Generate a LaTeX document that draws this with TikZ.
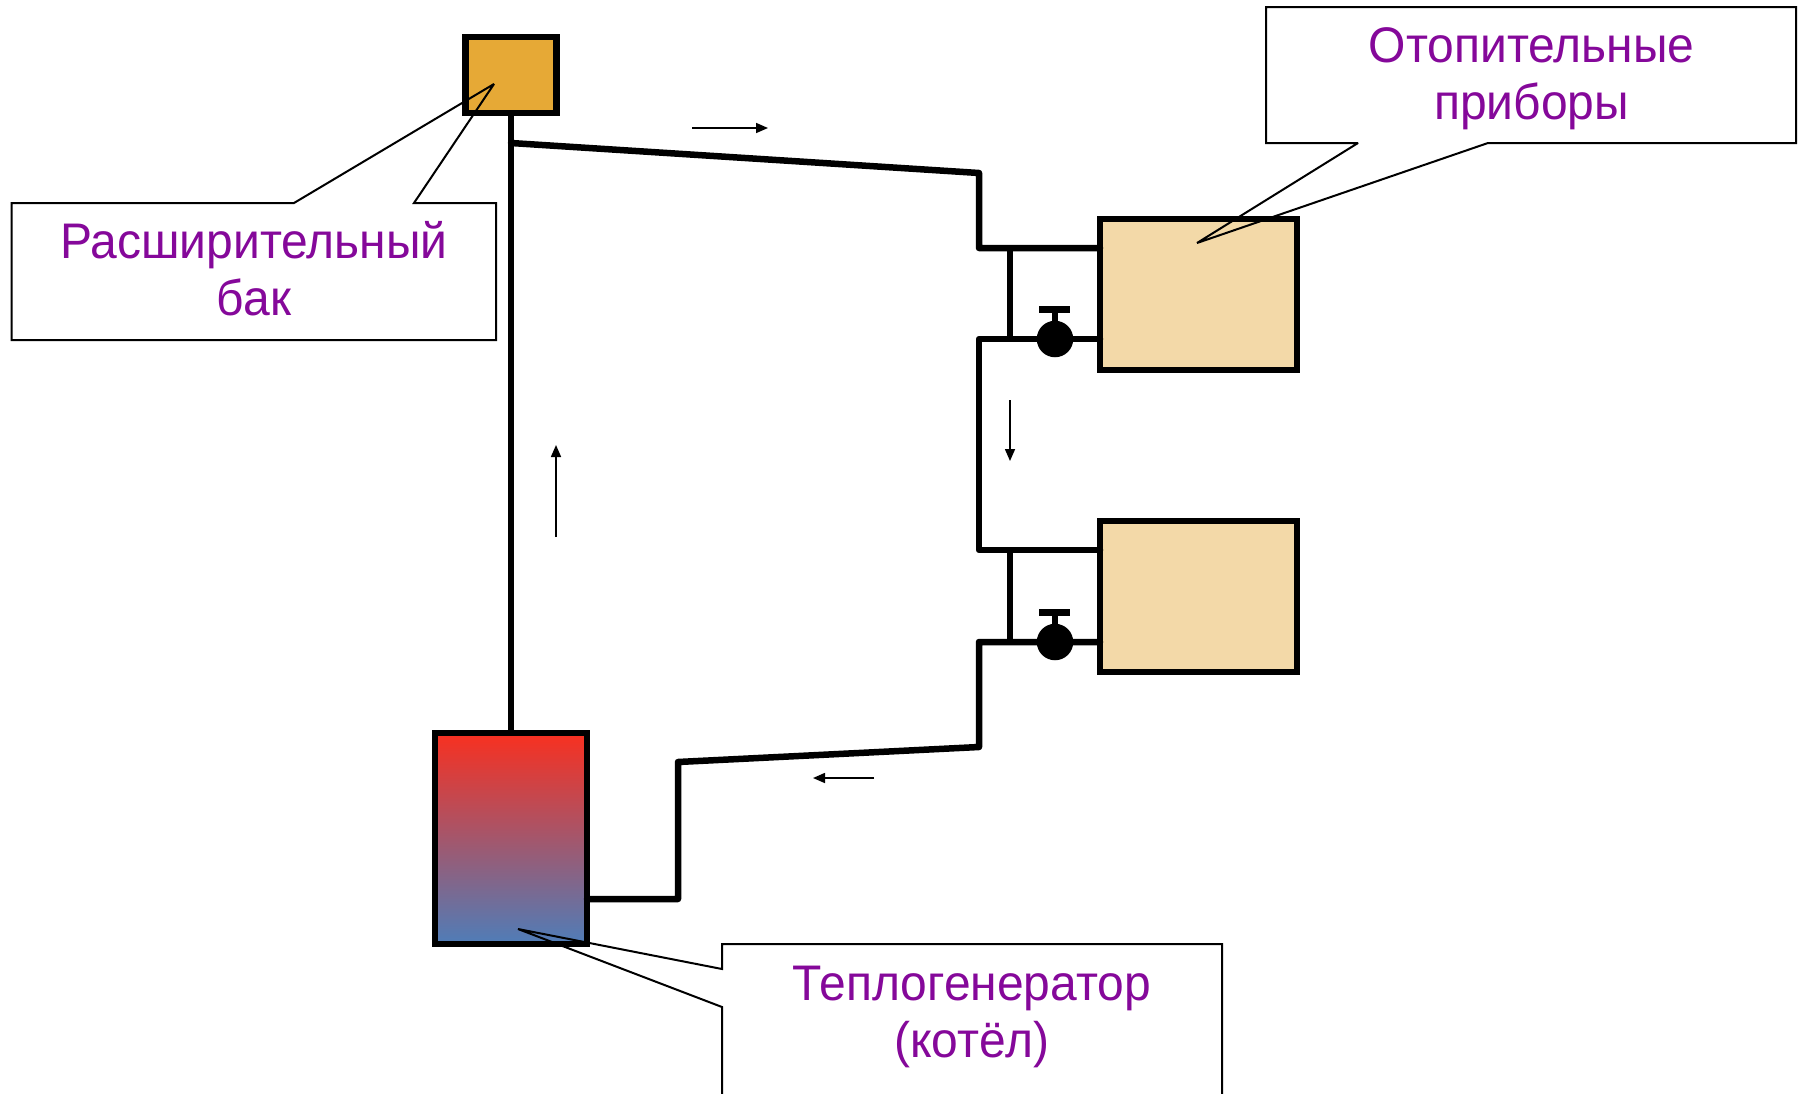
\documentclass[tikz,border=0pt]{standalone}
\usepackage{fontspec}
\setmainfont{Liberation Sans}
\newfontfamily\callfont[FakeStretch=0.96]{Liberation Sans}
\usetikzlibrary{arrows.meta}
\definecolor{tankfill}{HTML}{E6A936}
\definecolor{radfill}{HTML}{F3D9A8}
\definecolor{hot}{HTML}{F83020}
\definecolor{cold}{HTML}{4F7DB8}
\definecolor{labelcol}{HTML}{85089A}
\tikzset{
  x=1pt,y=-1pt,
  pipe/.style={line width=6.5pt,line cap=round,line join=round},
  thinpipe/.style={line width=6pt},
  unitbox/.style={draw,line width=6.3pt,inner sep=0pt,outer sep=0pt},
  radbox/.style={unitbox,fill=radfill,minimum width=196.5pt,minimum height=151pt},
  callout/.style={line width=2pt,line join=miter,miter limit=3},
  calltext/.style={text=labelcol,align=center,inner sep=0pt,font=\callfont\fontsize{50}{57}\selectfont},
  flow/.style={line width=1.6pt,-{Triangle[length=12pt,width=10pt]}},
  valvebody/.style={circle,fill=black,inner sep=0pt,minimum size=36.5pt},
}
\begin{document}
\begin{tikzpicture}
\useasboundingbox[fill=white] (0,0) rectangle (1802,1093);
% equipment
\node[unitbox,fill=tankfill,minimum width=91pt,minimum height=76pt] (tank) at (511,75) {};
\node[unitbox,top color=hot,bottom color=cold,minimum width=152pt,minimum height=211pt] (boiler) at (511,838.5) {};
\node[radbox] (radA) at (1198.5,294.5) {};
\node[radbox] (radB) at (1198.5,596.5) {};
% junctions
\coordinate (riser) at (511,143);
\coordinate (j1) at (979,173);
\coordinate (j2) at (979,248);
\coordinate (j2r) at (1100,248);
\coordinate (j3) at (979,339);
\coordinate (j3r) at (1100,339);
\coordinate (j4) at (979,550);
\coordinate (j4r) at (1100,550);
\coordinate (j5) at (979,642);
\coordinate (j5r) at (1100,642);
\coordinate (j6) at (979,747);
\coordinate (j7) at (678,762);
\coordinate (j8) at (678,899);
\coordinate (j8l) at (587,899);
\coordinate (b1t) at (1010,248);
\coordinate (b1b) at (1010,339);
\coordinate (b2t) at (1010,550);
\coordinate (b2b) at (1010,642);
% pipes
\draw[line width=6pt] (tank.south) -- (boiler.north);
\draw[pipe] (riser) -- (j1) -- (j2) -- (j2r);
\draw[pipe] (j3r) -- (j3) -- (j4) -- (j4r);
\draw[pipe] (j5r) -- (j5) -- (j6) -- (j7) -- (j8) -- (j8l);
\draw[thinpipe] (b1t) -- (b1b);
\draw[thinpipe] (b2t) -- (b2b);
% valves
\node[valvebody] (v1) at (1055,339) {};
\node[valvebody] (v2) at (1055,642) {};
\coordinate (v1s) at (1055,309);
\coordinate (v1a) at (1039,309);
\coordinate (v1b) at (1070,309);
\coordinate (v2s) at (1055,612);
\coordinate (v2a) at (1039,612);
\coordinate (v2b) at (1070,612);
\draw[thinpipe] (v1) -- (v1s);
\draw[line width=7pt] (v1a) -- (v1b);
\draw[thinpipe] (v2) -- (v2s);
\draw[line width=7pt] (v2a) -- (v2b);
% flow arrows
\coordinate (f1a) at (692,128); \coordinate (f1b) at (768,128);
\coordinate (f2a) at (1010,400); \coordinate (f2b) at (1010,461);
\coordinate (f3a) at (556,537); \coordinate (f3b) at (556,445);
\coordinate (f4a) at (874,778); \coordinate (f4b) at (813,778);
\draw[flow] (f1a) -- (f1b);
\draw[flow] (f2a) -- (f2b);
\draw[flow] (f3a) -- (f3b);
\draw[flow] (f4a) -- (f4b);
% callouts
\draw[callout] (11.5,203) -- (294,203) -- (494,84) -- (414,203) -- (496,203) -- (496,340) -- (11.5,340) -- cycle;
\node[calltext,anchor=base] (t1) at (254,315) {Расширительный\\бак};
\draw[callout] (1266,7) -- (1796,7) -- (1796,143) -- (1488,143) -- (1197,243) -- (1358,143) -- (1266,143) -- cycle;
\node[calltext,anchor=base] (t2) at (1531.5,119) {Отопительные\\приборы};
\draw[callout] (722,1096) -- (722,1007) -- (518,929) -- (722,969) -- (722,944) -- (1222,944) -- (1222,1096);
\node[calltext,anchor=base] (t3) at (972,1057) {Теплогенератор\\(котёл)};
\end{tikzpicture}
\end{document}
